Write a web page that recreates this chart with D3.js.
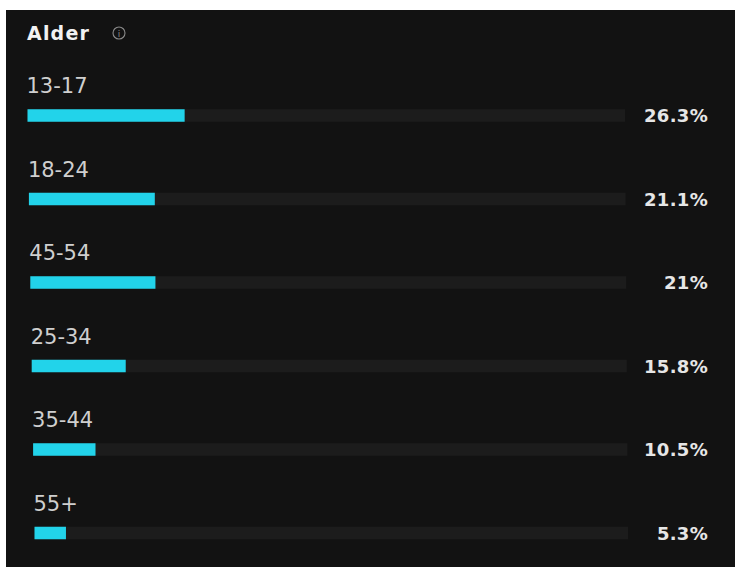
<!DOCTYPE html>
<html>
<head>
<meta charset="utf-8">
<script src="https://cdn.jsdelivr.net/npm/d3@7"></script>
<style>
  body { margin: 0; background: #ffffff; }
  svg { display: block; }
</style>
</head>
<body>
<svg id="chart" width="735" height="567"></svg>
<script>
// age groups and their share (%)
var ageGroups = ["13-17", "18-24", "45-54", "25-34", "35-44", "55+"];
var shares = [26.3, 21.1, 21, 15.8, 10.5, 5.3];
var valueLabels = ["26.3%", "21.1%", "21%", "15.8%", "10.5%", "5.3%"];

var svg = d3.select("#chart");
var font = "'DejaVu Sans', Verdana, sans-serif";

// dark card
svg.append("rect")
  .attr("x", 6).attr("y", 10)
  .attr("width", 729).attr("height", 557)
  .attr("fill", "#121212");

// title + info icon
svg.append("text")
  .attr("x", 27).attr("y", 40)
  .attr("fill", "#f2f2f2")
  .style("font-family", font)
  .style("font-size", "19px")
  .style("font-weight", 700)
  .style("letter-spacing", "1.2px")
  .text("Alder");

svg.append("circle")
  .attr("cx", 119).attr("cy", 33).attr("r", 6)
  .attr("fill", "none").attr("stroke", "#8a8a8a").attr("stroke-width", 1.1);
svg.append("text")
  .attr("x", 119).attr("y", 36.5)
  .attr("text-anchor", "middle")
  .attr("fill", "#8a8a8a")
  .style("font-family", font)
  .style("font-size", "9px")
  .text("i");

// row positions
var yScale = d3.scalePoint()
  .domain(ageGroups)
  .range([115.5, 533]);

// slight skew in the screenshot: rows drift to the right going down
var leftShift = d3.scaleLinear().domain([0, ageGroups.length - 1]).range([27.5, 34.5]);
var rightEnd = d3.scaleLinear().domain([0, ageGroups.length - 1]).range([625, 628]);

var barH = 12.5;

var rows = svg.selectAll("g.row")
  .data(ageGroups)
  .enter()
  .append("g")
  .attr("class", "row");

rows.each(function(d, i) {
  var g = d3.select(this);
  var x0 = leftShift(i), x1 = rightEnd(i);
  var xScale = d3.scaleLinear().domain([0, 100]).range([x0, x1]);
  var cy = yScale(d);

  g.append("text")
    .attr("x", x0 - 1)
    .attr("y", cy - 22.5)
    .attr("fill", "#cfcfcf")
    .style("font-family", font)
    .style("font-size", "21px")
    .style("font-weight", 400)
    .text(d);

  // track
  g.append("rect")
    .attr("x", xScale(0))
    .attr("y", cy - barH / 2)
    .attr("width", xScale(100) - xScale(0))
    .attr("height", barH)
    .attr("fill", "#1c1c1c");

  // value bar
  g.append("rect")
    .attr("x", xScale(0))
    .attr("y", cy - barH / 2)
    .attr("width", xScale(shares[i]) - xScale(0))
    .attr("height", barH)
    .attr("fill", "#22d3ea");

  g.append("text")
    .attr("x", 708)
    .attr("y", cy + 6.5)
    .attr("text-anchor", "end")
    .attr("fill", "#e6e6e6")
    .style("font-family", font)
    .style("font-size", "18px")
    .style("font-weight", 700)
    .style("letter-spacing", "0.3px")
    .text(valueLabels[i]);
});
</script>
</body>
</html>
